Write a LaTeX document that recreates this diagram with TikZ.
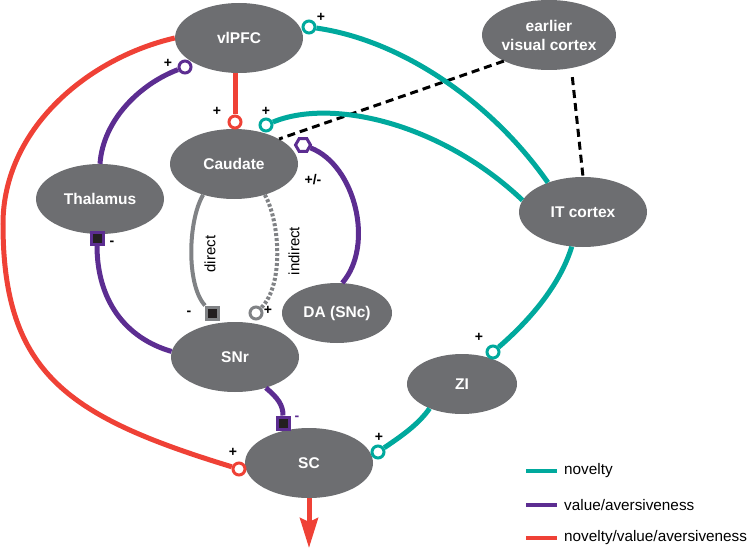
\documentclass[tikz,border=0pt]{standalone}
\usepackage{fontspec}
\setmainfont{Liberation Sans}
\usepackage{tikz}
\usetikzlibrary{arrows.meta}
\usetikzlibrary{shapes}

\definecolor{regiongray}{HTML}{6D6E71}
\definecolor{novteal}{HTML}{00A99D}
\definecolor{valpurple}{HTML}{5C2D91}
\definecolor{nvared}{HTML}{EF4136}
\definecolor{pathgray}{HTML}{808285}
\definecolor{markblack}{HTML}{231F20}

\begin{document}
\begin{tikzpicture}[x=1pt, y=-1pt,
  region/.style={ellipse, fill=regiongray, text=white, minimum width=128pt, minimum height=70pt, inner sep=0pt, align=center, font=\fontsize{15.5}{19}\selectfont\bfseries},
  smallregion/.style={region, minimum width=110pt, minimum height=60pt},
  exc/.style={circle, draw=#1, fill=white, line width=3pt, minimum size=12pt, inner sep=0pt},
  inh/.style={rectangle, draw=#1, fill=markblack, line width=3pt, minimum size=12pt, inner sep=0pt},
  modul/.style={regular polygon, regular polygon sides=6, draw=#1, fill=white, line width=3pt, minimum size=15pt, inner sep=0pt},
  sign/.style={font=\fontsize{14}{16}\selectfont\bfseries, inner sep=0pt},
  novline/.style={draw=novteal, line width=5pt},
  valline/.style={draw=valpurple, line width=5pt},
  nvaline/.style={draw=nvared, line width=5pt},
  pathway/.style={draw=pathgray, line width=4pt},
  pathlabel/.style={rotate=90, inner sep=0pt, font=\fontsize{15}{18}\selectfont},
  visline/.style={draw=black, line width=3pt, dash pattern=on 8pt off 5pt},
  legtext/.style={anchor=west, inner sep=0pt, font=\fontsize{15.3}{18}\selectfont}]
	\useasboundingbox (0,0) rectangle (749,548);
	%Regions
	\node [region] (vlpfc) at (239,38) {vlPFC};
	\node [region] (evc) at (549,35) {earlier\\visual cortex};
	\node [region] (caudate) at (234,164) {Caudate};
	\node [region] (thal) at (100,199) {Thalamus};
	\node [region] (itc) at (583,212) {IT cortex};
	\node [region] (snr) at (235,357) {SNr};
	\node [smallregion] (da) at (337,313) {DA (SNc)};
	\node [smallregion] (zi) at (462,384) {ZI};
	\node [region] (sc) at (309,463) {SC};
	\coordinate (scout) at (309,548);
	%Synapses
	\node [exc=nvared] (mRedCd) at (235,122) {};
	\node [exc=novteal] (mTealCd) at (266,125) {};
	\node [modul=valpurple] (mHexCd) at (303,145) {};
	\node [exc=novteal] (mTealPf) at (309,27) {};
	\node [exc=valpurple] (mPurPf) at (185,67) {};
	\node [inh=valpurple] (mSqTh) at (97,238) {};
	\node [inh=pathgray] (mSqDir) at (212,313) {};
	\node [exc=pathgray] (mCircInd) at (256,313) {};
	\node [inh=valpurple] (mSqSc) at (283,423) {};
	\node [exc=nvared] (mRedSc) at (239,469) {};
	\node [exc=novteal] (mTealSc) at (378,452) {};
	\node [exc=novteal] (mTealZi) at (493,352) {};
	%Visual input
	\draw[visline] (evc.210) -- (caudate.29);
	\draw[visline, shorten <=9pt] (evc.-56) -- (itc.north);
	%Novelty/value/aversiveness
	\draw[nvaline] (vlpfc.west) .. controls (88,58) and (3,129) .. (3,224) .. controls (3,374) and (69,417) .. (mRedSc);
	\draw[nvaline] (vlpfc.south -| mRedCd) -- (mRedCd);
	\draw[nvaline, -{Stealth[length=30pt, width=18pt, inset=4pt]}] (sc) -- (scout);
	%Value/aversiveness
	\draw[valline] (thal.north) .. controls (103,120) and (140,84) .. (mPurPf);
	\draw[valline] (mSqTh) .. controls (97,300) and (125,338) .. (snr.175);
	\draw[valline] (snr.-45) .. controls (278,398) and (283,405) .. (mSqSc);
	\draw[valline] (mHexCd) .. controls (355,165) and (375,245) .. (da.80);
	%Basal ganglia pathways
	\draw[pathway] (caudate.-135) .. controls (188,220) and (186,285) .. (mSqDir);
	\draw[pathway, dash pattern=on 3pt off 2pt] (caudate.-45) .. controls (280,222) and (284,285) .. (mCircInd);
	\node [pathlabel] (dirlbl) at (210,254) {direct};
	\node [pathlabel] (indlbl) at (294,251) {indirect};
	%Novelty
	\draw[novline] (itc.140) .. controls (490,100) and (400,40) .. (mTealPf);
	\draw[novline] (itc.169) .. controls (440,122) and (330,98) .. (mTealCd);
	\draw[novline] (itc.-108) .. controls (560,285) and (530,320) .. (mTealZi);
	\draw[novline] (zi.-143) .. controls (418,425) and (400,437) .. (mTealSc);
	%Signs
	\node [sign] (s1) at (217,111) {+};
	\node [sign] (s2) at (266,111) {+};
	\node [sign] (s3) at (313,180) {+/-};
	\node [sign] (s4) at (321,17) {+};
	\node [sign] (s5) at (168,63) {+};
	\node [sign] (s6) at (112,243) {-};
	\node [sign] (s7) at (189,313) {-};
	\node [sign] (s8) at (268,310) {+};
	\node [sign, text=valpurple] (s9) at (297,418) {-};
	\node [sign] (s10) at (233,452) {+};
	\node [sign] (s11) at (379,437) {+};
	\node [sign] (s12) at (479,337) {+};
	%Legend
	\node [legtext] (lgnov) at (564,471) {novelty};
	\node [legtext] (lgval) at (564,505) {value/aversiveness};
	\node [legtext] (lgnva) at (564,538) {novelty/value/aversiveness};
	\draw[novteal, line width=4pt] ([xshift=-38pt]lgnov.west) -- ([xshift=-7pt]lgnov.west);
	\draw[valpurple, line width=4pt] ([xshift=-38pt]lgval.west) -- ([xshift=-7pt]lgval.west);
	\draw[nvared, line width=4pt] ([xshift=-38pt]lgnva.west) -- ([xshift=-7pt]lgnva.west);
\end{tikzpicture}
\end{document}
